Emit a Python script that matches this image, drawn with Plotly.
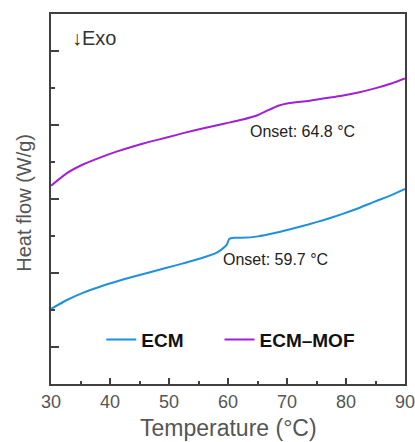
import plotly.graph_objects as go

temp_ecm = [30, 32.7, 35.5, 38.3, 41.1, 43.9, 46.8, 49.6, 52.4, 55.3, 58.1, 59.6, 59.85, 60.2, 61, 62.3,
            65.1, 67.9, 70.7, 73.6, 76.4, 79.3, 82.1, 84.9, 87.8, 90]
hf_ecm = [2.03, 2.27, 2.47, 2.63, 2.77, 2.90, 3.02, 3.14, 3.26, 3.39, 3.55, 3.73, 3.78, 3.92, 3.95, 3.95,
          3.99, 4.08, 4.19, 4.31, 4.44, 4.59, 4.75, 4.93, 5.11, 5.27]

temp_mof = [30, 32.7, 35.5, 38.3, 41.1, 43.9, 46.8, 49.6, 52.4, 55.3, 59.5, 62.3, 65.1, 66.8, 68.5,
            70.2, 73.6, 76.4, 79.3, 82.1, 84.9, 87.8, 90]
hf_mof = [5.36, 5.70, 5.94, 6.12, 6.28, 6.42, 6.55, 6.66, 6.78, 6.89, 7.04, 7.14, 7.27, 7.40, 7.52,
          7.59, 7.65, 7.72, 7.79, 7.88, 7.99, 8.13, 8.26]

series_names = ["ECM", "ECM\u2013MOF"]
series_colors = ["#1E90DC", "#A020D8"]
legend_ids = ["legend", "legend2"]
onset_labels = ["Onset: 59.7 \u00b0C", "Onset: 64.8 \u00b0C"]
onset_pos = [(68.0, 3.36), (72.7, 6.82)]

x_ticks = [30, 40, 50, 60, 70, 80, 90]
y_major = [1, 3, 5, 7, 9]

FONT = "Liberation Sans, Arial"
GRAY = "#555555"

fig = go.Figure()
for t, h, name, col, lg in zip([temp_ecm, temp_mof], [hf_ecm, hf_mof], series_names, series_colors, legend_ids):
    fig.add_trace(go.Scatter(x=t, y=h, mode="lines", name=name, legend=lg, showlegend=True,
                             line=dict(color=col, width=2, shape="spline", smoothing=0.5)))

for txt, (px, py) in zip(onset_labels, onset_pos):
    fig.add_annotation(x=px, y=py, text=txt, showarrow=False,
                       font=dict(family=FONT, size=16, color="#222222"))

fig.add_annotation(xref="paper", yref="paper", x=0.055, y=0.936, xanchor="left", yanchor="middle",
                   text="\u2193Exo", showarrow=False,
                   font=dict(family=FONT, size=20, color="#333333"))

# axis titles
fig.add_annotation(xref="paper", yref="paper", x=0.5, y=-0.118, xanchor="center", yanchor="middle",
                   text="Temperature (\u00b0C)", showarrow=False,
                   font=dict(family=FONT, size=23, color=GRAY))
fig.add_annotation(xref="paper", yref="paper", x=-0.076, y=0.49, xanchor="center", yanchor="middle",
                   text="Heat flow (W/g)", textangle=-90, showarrow=False,
                   font=dict(family=FONT, size=20, color=GRAY))

axis_common = dict(showline=True, linecolor="#404040", linewidth=2, mirror=True,
                   ticks="inside", tickcolor="#404040", tickwidth=1.5,
                   showgrid=False, zeroline=False, automargin=False)

fig.update_xaxes(range=[30, 90], tickvals=x_ticks, ticklen=6, ticklabeloverflow="allow",
                 minor=dict(dtick=5, tick0=30, ticklen=3, ticks="inside", tickcolor="#404040", tickwidth=1.5),
                 tickfont=dict(family=FONT, size=18, color=GRAY),
                 **axis_common)
fig.update_yaxes(range=[0, 10], tickvals=y_major, ticklen=8, showticklabels=False,
                 minor=dict(dtick=1, tick0=0, ticklen=4, ticks="inside", tickcolor="#404040", tickwidth=1.5),
                 **axis_common)

legend_style = dict(orientation="h", y=0.12, xanchor="left", yanchor="middle",
                    bgcolor="rgba(0,0,0,0)", visible=True,
                    font=dict(family=FONT, size=19, color="#111111", weight="bold"))

fig.update_layout(width=415, height=442, margin=dict(l=51, r=10, t=14, b=58),
                  plot_bgcolor="white", paper_bgcolor="white", showlegend=True,
                  legend=dict(x=0.142, **legend_style),
                  legend2=dict(x=0.476, **legend_style))

fig.write_html("out.html", config={"displayModeBar": False},
               post_script="document.body.style.margin='0';")
